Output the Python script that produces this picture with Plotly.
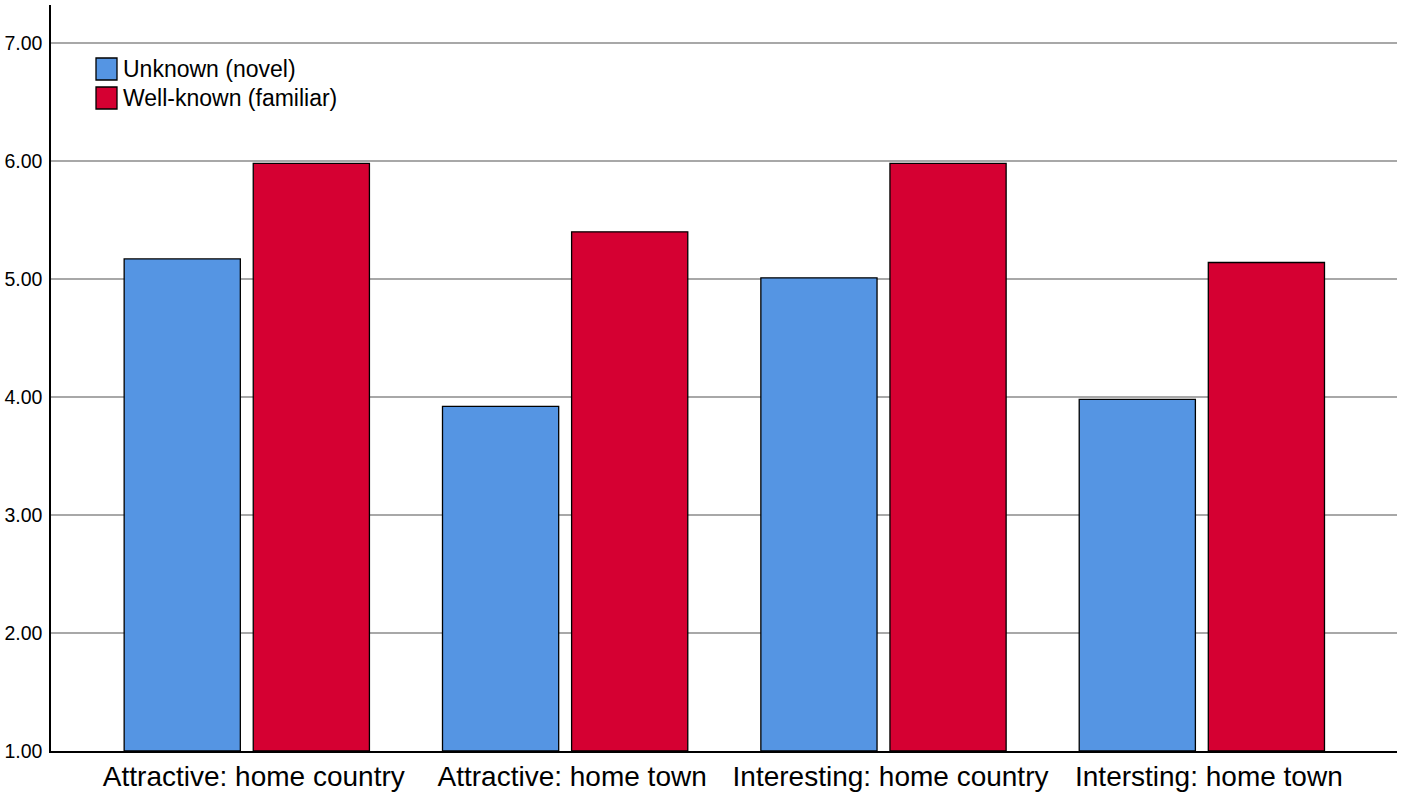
import plotly.graph_objects as go

categories = ["Attractive: home country", "Attractive: home town",
              "Interesting: home country", "Intersting: home town"]
unknown_novel = [5.17, 3.92, 5.01, 3.98]
well_known_familiar = [5.98, 5.40, 5.98, 5.14]
series_names = ["Unknown (novel)", "Well-known (familiar)"]
series_colors = ["#5595e3", "#d50032"]
y_ticks = [1, 2, 3, 4, 5, 6, 7]
y_tick_labels = ["1.00", "2.00", "3.00", "4.00", "5.00", "6.00", "7.00"]

FONT = "Liberation Sans, Arial, sans-serif"
BASE = 1.0

fig = go.Figure()
for name, vals, col in zip(series_names, [unknown_novel, well_known_familiar], series_colors):
    fig.add_trace(go.Bar(
        name=name, x=categories, y=[v - BASE for v in vals], base=BASE,
        marker=dict(color=col, line=dict(color="#000000", width=1.3)),
        showlegend=False,
    ))

# Legend drawn as large square swatches with text (paper coordinates)
W, H = 1405, 799
ML, MR, MT, MB = 51, 8, 5, 48
pw, ph = W - ML - MR, H - MT - MB
def px_x(p):
    return (p - ML) / pw
def px_y(p):
    return 1 - (p - MT) / ph

legend_rows_y = [69, 98]
for name, col, cy in zip(series_names, series_colors, legend_rows_y):
    fig.add_shape(type="rect", xref="paper", yref="paper",
                  x0=px_x(96), x1=px_x(117), y0=px_y(cy - 11), y1=px_y(cy + 11),
                  fillcolor=col, line=dict(color="#000000", width=1.3), layer="above")
    fig.add_annotation(xref="paper", yref="paper", x=px_x(121), y=px_y(cy),
                       xanchor="left", yanchor="middle", text=name, showarrow=False,
                       font=dict(size=23, family=FONT, color="#000000"))

fig.update_layout(
    width=W, height=H,
    margin=dict(l=ML, r=MR, t=MT, b=MB),
    paper_bgcolor="white", plot_bgcolor="white",
    barmode="group", bargap=0.189, bargroupgap=0.1,
    font=dict(family=FONT, color="#000000"),
    showlegend=False,
    xaxis=dict(
        range=[-0.615, 3.613], showline=True, linecolor="#000000", linewidth=1.5,
        showgrid=False, ticks="", tickfont=dict(size=28, family=FONT, color="#000000"),
        ticklabelshift=7,
        zeroline=False, automargin=False,
    ),
    yaxis=dict(
        range=[1, 7.322], tickvals=y_ticks, ticktext=y_tick_labels,
        showline=True, linecolor="#000000", linewidth=1.5,
        showgrid=True, gridcolor="#a8a8a8", gridwidth=1.6,
        ticks="", tickfont=dict(size=19.5, family=FONT, color="#000000"),
        ticklabelstandoff=3, zeroline=False, automargin=False,
    ),
)

fig.write_html("out.html", config={"displayModeBar": False},
               post_script="document.body.style.margin='0';")
